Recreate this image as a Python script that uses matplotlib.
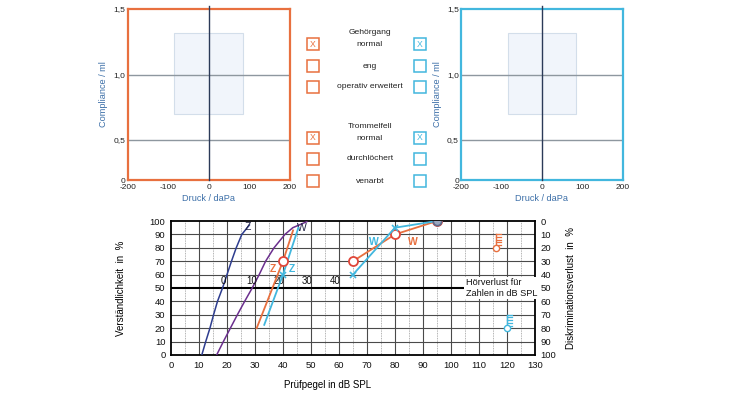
import matplotlib
matplotlib.use('Agg')
import matplotlib.pyplot as plt
from matplotlib.patches import Rectangle
import numpy as np

plt.rcParams['font.family'] = ['Liberation Sans', 'DejaVu Sans']

# --- data ---
tymp_xticks = [-200, -100, 0, 100, 200]
tymp_yticks = [0, 0.5, 1.0, 1.5]
tymp_ylabels = ['0', '0,5', '1,0', '1,5']
norm_press = (-85, 85)      # normal range pressure (daPa)
norm_comp = (0.7, 1.32)     # normal range compliance (ml)

row_labels = ['Gehörgang\nnormal', 'eng', 'operativ erweitert',
              'Trommelfell\nnormal', 'durchlöchert', 'venarbt']
checked_right = [True, False, False, True, False, False]
checked_left = [True, False, False, True, False, False]

# normal curves (Prüfpegel dB SPL, Verständlichkeit %)
z_norm_x = [11, 12.4, 13.9, 15.2, 16.6, 18.4, 20.0, 21.6, 23.3, 25.3, 28.0]
z_norm_y = [0, 10, 20, 30, 40, 50, 60, 70, 80, 90, 97]
w_norm_x = [16.3, 18.7, 21.2, 23.7, 26.3, 29.0, 31.5, 33.8, 36.8, 40.7, 43.5, 48.5]
w_norm_y = [0, 10, 20, 30, 40, 50, 60, 70, 80, 90, 95, 99.5]

# right ear (orange) / left ear (cyan)
z_right_x = [30.6, 40, 43.6]
z_right_y = [20, 70, 93]
z_right_pt = (40, 70)
z_left_x = [33.3, 40, 45.5]
z_left_y = [22.5, 60, 95]
z_left_pt = (40, 60)
w_right_x = [65, 80, 95]
w_right_y = [70, 90, 100]
w_left_x = [65, 80, 95]
w_left_y = [60, 95, 100]

# discrimination loss markers (x dB SPL, loss %)
dl_right = (116, 20)
dl_left = (120, 80)

hl_labels = [0, 10, 20, 30, 40]
hl_offset = 18.7

ORANGE = '#E8703F'
CYAN = '#42B7DE'
NAVY = '#2E3D8F'
PURPLE = '#6B2F8E'
LBLUE = '#3C6FA8'

fig = plt.figure(figsize=(7.5, 3.95), dpi=100)


def fwd(y):
    y = np.asarray(y, float)
    return np.where(y < 0.5, y * 0.61, y - 0.195)


def inv(v):
    v = np.asarray(v, float)
    return np.where(v < 0.305, v / 0.61, v + 0.195)


def tympanogram(rect, color):
    ax = fig.add_axes(rect)
    ax.set_yscale('function', functions=(fwd, inv))
    ax.set_xlim(-200, 200)
    ax.set_ylim(0, 1.5)
    ax.add_patch(Rectangle((norm_press[0], norm_comp[0]),
                           norm_press[1] - norm_press[0], norm_comp[1] - norm_comp[0],
                           facecolor='#F1F5FB', edgecolor='#D3DEEA', lw=0.8, zorder=1))
    for yv in tymp_yticks[1:3]:
        ax.axhline(yv, color='#8E979F', lw=1.0, zorder=2)
    ax.axvline(0, color='#2B3A58', lw=1.0, zorder=3, ymax=1.02, clip_on=False)
    ax.set_xticks(tymp_xticks)
    ax.set_xticklabels([str(t) for t in tymp_xticks])
    ax.set_yticks(tymp_yticks)
    ax.set_yticklabels(tymp_ylabels)
    ax.tick_params(length=0, labelsize=6, colors='#222222', pad=3)
    ax.tick_params(axis='y', pad=1.5)
    for s in ax.spines.values():
        s.set_color(color)
        s.set_linewidth(1.6)
    ax.set_xlabel('Druck / daPa', fontsize=6.6, color=LBLUE, labelpad=2)
    ax.set_ylabel('Compliance / ml', fontsize=6.6, color=LBLUE, labelpad=4)
    return ax


tympanogram([0.1703, 0.5443, 0.2164, 0.4329], ORANGE)
tympanogram([0.6147, 0.5443, 0.2156, 0.4329], CYAN)

# checkbox panel (pixel overlay)
ov = fig.add_axes([0, 0, 1, 1])
ov.set_xlim(0, 750)
ov.set_ylim(395, 0)
ov.axis('off')
row_y = [44, 65.5, 86.5, 137.5, 158.5, 181]
for lab, yy, cr, cl in zip(row_labels, row_y, checked_right, checked_left):
    for xx, col, chk in ((313, ORANGE, cr), (420, CYAN, cl)):
        ov.add_patch(Rectangle((xx - 6, yy - 6), 12, 12, fill=False,
                               edgecolor=col, lw=1.1))
        if chk:
            ov.text(xx, yy + 0.5, 'X', color=col, fontsize=6.2,
                    ha='center', va='center')
    if '\n' in lab:
        top, bot = lab.split('\n')
        ov.text(370, yy - 11.5, top, fontsize=6.1, ha='center', va='center', color='#222222')
        ov.text(370, yy + 0.5, bot, fontsize=6.1, ha='center', va='center', color='#222222')
    else:
        ov.text(370, yy + 0.5, lab, fontsize=6.1, ha='center', va='center', color='#222222')

# speech audiogram
ax = fig.add_axes([0.228, 0.1013, 0.4853, 0.3392])
ax.set_xlim(0, 130)
ax.set_ylim(0, 100)
for xv in np.arange(5, 130, 10):
    ax.axvline(xv, color='#9A9A9A', lw=0.6, ls=(0, (1, 1)), zorder=1)
for xv in np.arange(10, 130, 10):
    ax.axvline(xv, color='#4A4A4A', lw=0.8, zorder=1)
for yv in np.arange(10, 100, 10):
    if yv != 50:
        ax.axhline(yv, color='#4A4A4A', lw=0.8, zorder=1)
ax.axhline(50, color='black', lw=1.5, zorder=2)

ax.plot(z_norm_x, z_norm_y, color=NAVY, lw=1.1, zorder=3)
ax.plot(w_norm_x, w_norm_y, color=PURPLE, lw=1.1, zorder=3)
ax.plot(z_right_x, z_right_y, color=ORANGE, lw=1.3, zorder=4)
ax.plot(z_left_x, z_left_y, color=CYAN, lw=1.3, zorder=4)
ax.plot(*z_right_pt, marker='o', ms=6.5, mfc='white', mec='#E0463A', mew=1.3, zorder=5)
ax.plot(*z_left_pt, marker='x', ms=5, color=CYAN, mew=1.2, zorder=5)
ax.plot(w_right_x, w_right_y, color=ORANGE, lw=1.3, zorder=4,
        marker='o', ms=6.5, mfc='white', mec='#E0463A', mew=1.3)
ax.plot(w_left_x, w_left_y, color=CYAN, lw=1.3, zorder=5,
        marker='x', ms=5, mew=1.2)
ax.plot(w_right_x[-1], w_right_y[-1], marker='o', ms=6, mfc='#9AA6BE',
        mec='#5E6A8A', mew=1.2, zorder=6)

# discrimination loss symbols
for (xd, loss), col in ((dl_right, ORANGE), (dl_left, CYAN)):
    yb = 100 - loss
    ax.plot([xd, xd], [yb, yb + 10], color=col, lw=1.0, zorder=5)
    for k in np.arange(2, 11, 2):
        ax.plot([xd, xd + 1.8], [yb + k, yb + k], color=col, lw=0.9, zorder=5)
    ax.plot(xd, yb, marker='o', ms=4.5, mfc='white', mec=col, mew=1.0, zorder=6)

# curve labels
ax.text(27.6, 95.5, 'Z', color='#222244', fontsize=7.5, ha='center', va='center')
ax.text(46.8, 94.5, 'W', color='#222244', fontsize=7.5, ha='center', va='center')
ax.text(36.5, 64, 'Z', color=ORANGE, fontsize=7.5, ha='center', va='center', fontweight='bold')
ax.text(43.2, 64, 'Z', color=CYAN, fontsize=7.5, ha='center', va='center', fontweight='bold')
ax.text(72.5, 84.5, 'W', color=CYAN, fontsize=7.5, ha='center', va='center', fontweight='bold')
ax.text(86.3, 84.5, 'W', color=ORANGE, fontsize=7.5, ha='center', va='center', fontweight='bold')

for h in hl_labels:
    ax.text(h + hl_offset, 51.5, str(h), fontsize=7, ha='center', va='bottom', color='#111111')

ax.text(105.3, 50, 'Hörverlust für\nZahlen in dB SPL', fontsize=6.6, ha='left', va='center',
        linespacing=1.2, color='#111111',
        bbox=dict(facecolor='white', edgecolor='none', pad=1.0), zorder=6)

ax.set_xticks(np.arange(0, 131, 10))
ax.set_yticks(np.arange(0, 101, 10))
ax.tick_params(length=0, labelsize=6.8, colors='#111111', pad=4)
for s in ax.spines.values():
    s.set_color('black')
    s.set_linewidth(1.3)
ax.set_xlabel('Prüfpegel in dB SPL', fontsize=7)
ax.xaxis.set_label_coords(0.43, -0.185)
ax.set_ylabel('Verständlichkeit  in  %', fontsize=7)
ax.yaxis.set_label_coords(-0.125, 0.5)

ax2 = ax.twinx()
ax2.set_ylim(100, 0)
ax2.set_yticks(np.arange(0, 101, 10))
ax2.tick_params(length=0, labelsize=6.8, colors='#111111', pad=4)
for s in ax2.spines.values():
    s.set_visible(False)
ax2.set_ylabel('Diskriminationsverlust  in  %', fontsize=7)
ax2.yaxis.set_label_coords(1.085, 0.5)

fig.savefig('out.png', dpi=100)
